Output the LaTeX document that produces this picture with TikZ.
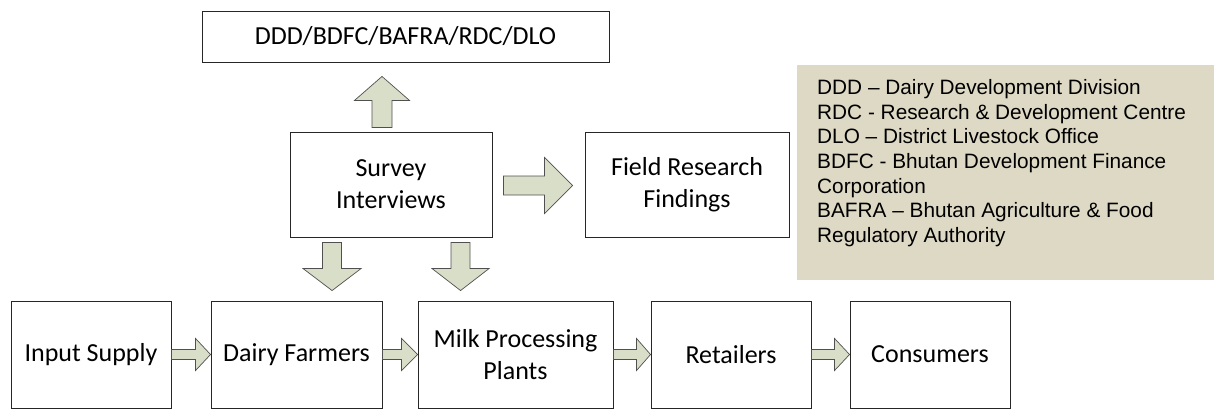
\documentclass[tikz,border=0pt]{standalone}
\usepackage{fontspec}
\setmainfont{Carlito}
\newfontfamily\legendfont{Liberation Sans}
\usetikzlibrary{calc}

\definecolor{arrowfill}{RGB}{216,222,200}
\definecolor{arrowline}{RGB}{80,80,80}
\definecolor{legendfill}{RGB}{221,217,196}

% block arrow from tail #1 to tip #2: shaft half-width #3, head half-width #4, head length #5
\newcommand\blockarrow[5]{%
  \path ($(#2)!#5!(#1)$) coordinate (ba-base);
  \draw[blockarrow]
    ($(#1)!#3!90:(#2)$) -- ($(ba-base)!#3!90:(#2)$) -- ($(ba-base)!#4!90:(#2)$)
    -- (#2)
    -- ($(ba-base)!#4!-90:(#2)$) -- ($(ba-base)!#3!-90:(#2)$) -- ($(#1)!#3!-90:(#2)$) -- cycle;
}

\tikzset{
  box/.style={draw=black!85, line width=0.9pt, fill=white, inner sep=0pt, align=center,
              font=\fontsize{26}{32}\selectfont},
  blockarrow/.style={draw=arrowline, line width=0.7pt, fill=arrowfill, line join=miter},
}

\begin{document}
\begin{tikzpicture}[x=1pt, y=-1pt]
  \useasboundingbox[fill=white] (0,0) rectangle (1214,409);

  % organisations and survey
  \node[box, minimum width=407pt, minimum height=51pt] (org) at (405.5,36.5) {DDD/BDFC/BAFRA/RDC/DLO};
  \node[box, minimum width=202pt, minimum height=105pt] (survey) at (391,184.5) {Survey\\Interviews};
  \node[box, minimum width=204pt, minimum height=105pt] (field) at (687,184.5) {Field Research\\Findings};

  % value chain
  \node[box, minimum width=160pt, minimum height=107pt] (input) at (91,354.5) {Input Supply};
  \node[box, minimum width=171pt, minimum height=107pt] (dairy) at (296.5,354.5) {Dairy Farmers};
  \node[box, minimum width=195pt, minimum height=107pt] (milk) at (515.5,354.5) {Milk Processing\\Plants};
  \node[box, minimum width=160pt, minimum height=107pt] (retail) at (731,354.5) {Retailers};
  \node[box, minimum width=160pt, minimum height=107pt] (cons) at (930,354.5) {Consumers};

  % abbreviations (anchored on the baseline of the last line)
  \node[fill=legendfill, minimum width=417pt, minimum height=215pt, inner sep=0pt] (legendbg) at (1005.5,172.5) {};
  \node[anchor=base west, inner sep=0pt, align=left,
        font=\legendfont\fontsize{20.8}{24.7}\selectfont] (legend) at (817,242.5)
    {DDD – Dairy Development Division\\
     RDC - Research \& Development Centre\\
     DLO – District Livestock Office\\
     BDFC - Bhutan Development Finance\\
     Corporation\\
     BAFRA – Bhutan Agriculture \& Food\\
     Regulatory Authority};

  % arrows out of the survey
  \coordinate (up-tail) at ($(survey.north)+(-9,-4)$);
  \coordinate (up-tip)  at ($(up-tail |- org.south)+(0,14)$);
  \blockarrow{up-tail}{up-tip}{10pt}{27.5pt}{24pt}

  \coordinate (rt-tail) at ($(survey.east)+(11,1)$);
  \coordinate (rt-tip)  at ($(field.west)+(-12,1)$);
  \blockarrow{rt-tail}{rt-tip}{9.5pt}{28pt}{28pt}

  \coordinate (d1-tail) at ($(survey.south west)+(42.5,5)$);
  \coordinate (d1-tip)  at ($(d1-tail |- dairy.north)+(0,-10)$);
  \blockarrow{d1-tail}{d1-tip}{9.5pt}{29pt}{22pt}

  \coordinate (d2-tail) at ($(survey.south west)+(171,5)$);
  \coordinate (d2-tip)  at ($(d2-tail |- milk.north)+(0,-10)$);
  \blockarrow{d2-tail}{d2-tip}{9.5pt}{28.5pt}{22pt}

  % arrows along the chain
  \blockarrow{input.east}{dairy.west}{5pt}{16pt}{15pt}
  \blockarrow{dairy.east}{milk.west}{5pt}{16pt}{16pt}
  \blockarrow{milk.east}{retail.west}{5pt}{16pt}{14pt}
  \blockarrow{retail.east}{cons.west}{5pt}{16pt}{15pt}
\end{tikzpicture}
\end{document}
